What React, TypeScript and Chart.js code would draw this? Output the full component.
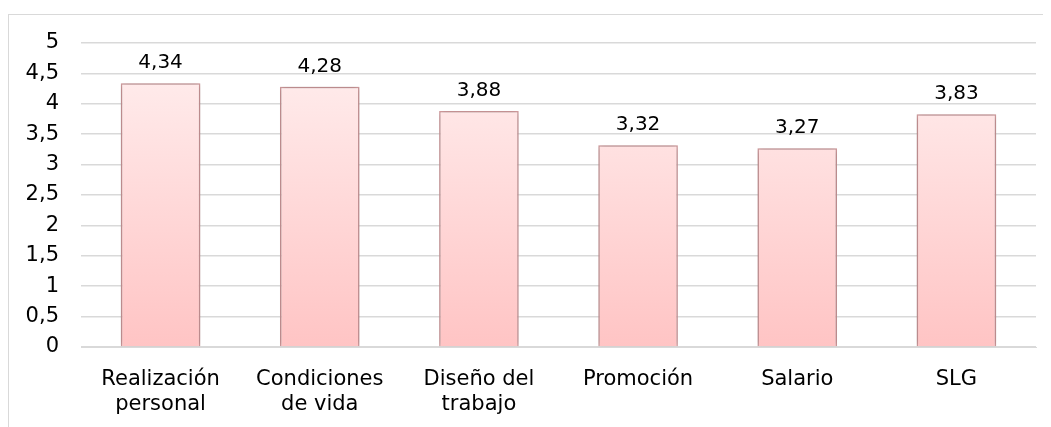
import React, { useEffect, useRef } from "react";
import { Chart, registerables } from "chart.js";
Chart.register(...registerables);

const categories: (string | string[])[] = [
  ["Realización", "personal"],
  ["Condiciones", "de vida"],
  ["Diseño del", "trabajo"],
  "Promoción",
  "Salario",
  "SLG",
];
const values = [4.34, 4.28, 3.88, 3.32, 3.27, 3.83];
const yTicks = [0, 0.5, 1, 1.5, 2, 2.5, 3, 3.5, 4, 4.5, 5];

const fmt = (v: number) => String(v).replace(".", ",");

export default function App() {
  const ref = useRef<HTMLCanvasElement>(null);
  useEffect(() => {
    if (!ref.current) return;
    const framePlugin = {
      id: "frame",
      beforeDraw(chart: any) {
        const ctx = chart.ctx;
        ctx.save();
        ctx.fillStyle = "#ffffff";
        ctx.fillRect(0, 0, chart.width, chart.height);
        ctx.strokeStyle = "#d9d9d9";
        ctx.lineWidth = 1;
        ctx.strokeRect(0.5, 6.5, 1035, chart.height + 10);
        ctx.restore();
      },
    };
    const shadowPlugin = {
      id: "shadow",
      beforeDatasetsDraw(chart: any) {
        const ctx = chart.ctx;
        ctx.save();
        ctx.shadowColor = "rgba(0,0,0,0.3)";
        ctx.shadowBlur = 6;
        ctx.shadowOffsetX = 0;
        ctx.shadowOffsetY = 0;
      },
      afterDatasetsDraw(chart: any) {
        chart.ctx.restore();
      },
    };
    const labelPlugin = {
      id: "vals",
      afterDatasetsDraw(chart: any) {
        const ctx = chart.ctx;
        const meta = chart.getDatasetMeta(0);
        ctx.save();
        ctx.fillStyle = "#000";
        ctx.font = "20px 'DejaVu Sans', sans-serif";
        ctx.textAlign = "center";
        ctx.textBaseline = "alphabetic";
        meta.data.forEach((bar: any, i: number) => {
          ctx.fillText(fmt(values[i]), bar.x, bar.y - 15);
        });
        ctx.restore();
      },
    };
    const chart = new Chart(ref.current, {
      type: "bar",
      data: {
        labels: categories,
        datasets: [
          {
            data: values,
            backgroundColor: (c: any) => {
              const area = c.chart.chartArea;
              if (!area) return "#ffd8d8";
              const g = c.chart.ctx.createLinearGradient(0, area.top, 0, area.bottom);
              g.addColorStop(0, "#fff0f0");
              g.addColorStop(1, "#ffc4c4");
              return g;
            },
            borderColor: "#d8a0a2",
            borderWidth: 1.5,
            barPercentage: 0.5,
            categoryPercentage: 1,
          },
        ],
      },
      options: {
        animation: false,
        responsive: false,
        layout: { padding: { top: 35, right: 15, left: 0, bottom: 0 } },
        plugins: { legend: { display: false }, tooltip: { enabled: false } },
        scales: {
          x: {
            grid: { display: false },
            border: { color: "#d9d9d9" },
            ticks: {
              color: "#000",
              font: { family: "'DejaVu Sans'", size: 21, lineHeight: 1.2 },
              maxRotation: 0,
              autoSkip: false,
              padding: 12,
            },
            afterFit: (axis: any) => {
              axis.height = 80;
            },
          },
          y: {
            min: 0,
            max: 5,
            afterBuildTicks: (axis: any) => {
              axis.ticks = yTicks.map((v) => ({ value: v }));
            },
            grid: { color: "#d9d9d9", drawTicks: false, lineWidth: 1.5 },
            border: { display: false },
            ticks: {
              color: "#000",
              font: { family: "'DejaVu Sans'", size: 21 },
              padding: 22,
              callback: (v: any) => fmt(Number(v)),
            },
            afterFit: (axis: any) => {
              axis.width = 73;
            },
          },
        },
      },
      plugins: [framePlugin, shadowPlugin, labelPlugin],
    } as any);
    return () => chart.destroy();
  }, []);
  return <canvas ref={ref} width={1043} height={419} style={{ display: "block" }} />;
}
